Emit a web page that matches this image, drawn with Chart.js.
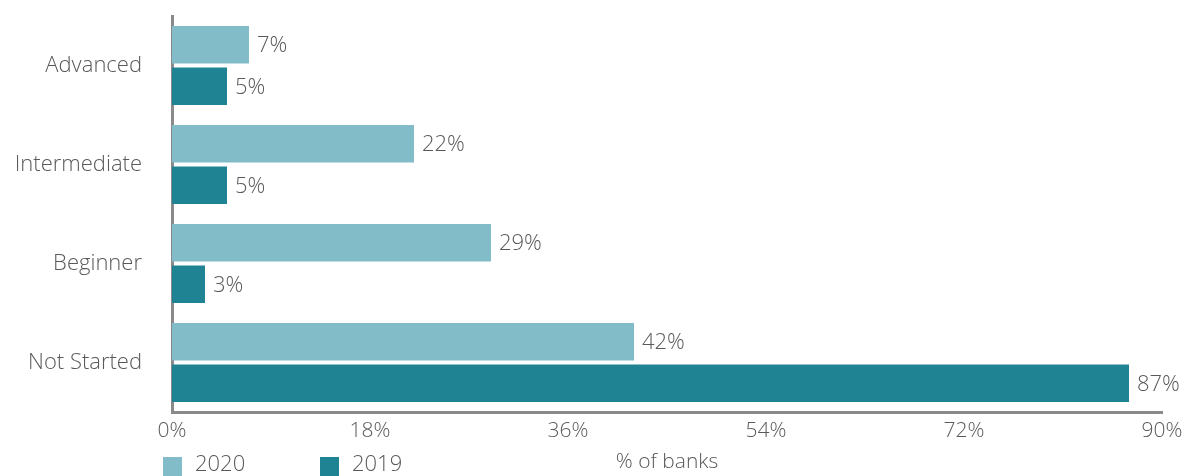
<!DOCTYPE html>
<html>
<head>
<meta charset="utf-8">
<script src="https://cdn.jsdelivr.net/npm/chart.js@4/dist/chart.umd.min.js"></script>
<style>
  html, body { margin: 0; padding: 0; background: #fff; }
  #wrap { width: 1184px; height: 476px; position: relative; }
</style>
</head>
<body>
<div id="wrap"><canvas id="stage"></canvas></div>
<script>
const categories = ['Advanced', 'Intermediate', 'Beginner', 'Not Started'];
const values2020 = [7, 22, 29, 42];
const values2019 = [5, 5, 3, 87];
const seriesNames = ['2020', '2019'];
const xTicks = [0, 18, 36, 54, 72, 90];

const textColor = '#595959';
const fontFamily = "'Open Sans', sans-serif";

// value labels at the end of each bar
const barLabels = {
    id: 'barLabels',
    afterDatasetsDraw(chart) {
        const ctx = chart.ctx;
        ctx.save();
        ctx.fillStyle = textColor;
        ctx.font = '300 22px ' + fontFamily;
        ctx.textBaseline = 'middle';
        ctx.textAlign = 'left';
        chart.data.datasets.forEach(function (ds, i) {
            chart.getDatasetMeta(i).data.forEach(function (bar, j) {
                ctx.fillText(ds.data[j] + '%', bar.x + 8, bar.y + 1);
            });
        });
        ctx.restore();
    }
};

// legend sits on the same line as the axis title, at the left
const sideLegend = {
    id: 'sideLegend',
    afterDraw(chart) {
        const ctx = chart.ctx;
        const xs = [163, 320];
        ctx.save();
        ctx.font = '300 22px ' + fontFamily;
        ctx.textBaseline = 'middle';
        chart.data.datasets.forEach(function (ds, i) {
            ctx.fillStyle = ds.backgroundColor;
            ctx.fillRect(xs[i], 457, 19, 19);
            ctx.fillStyle = textColor;
            ctx.fillText(ds.label, xs[i] + 32, 465);
        });
        ctx.restore();
    }
};

new Chart(document.getElementById('stage'), {
    type: 'bar',
    data: {
        labels: categories,
        datasets: [{
            label: seriesNames[0],
            data: values2020,
            backgroundColor: '#82bcc8',
            categoryPercentage: 0.84,
            barPercentage: 0.9
        },
        {
            label: seriesNames[1],
            data: values2019,
            backgroundColor: '#208394',
            categoryPercentage: 0.84,
            barPercentage: 0.9
        }]
    },
    options: {
        indexAxis: 'y',
        responsive: true,
        maintainAspectRatio: false,
        animation: false,
        layout: {
            padding: { top: 16, right: 22, left: 0, bottom: 0 }
        },
        plugins: {
            legend: { display: false },
            tooltip: { enabled: false }
        },
        scales: {
            x: {
                min: 0,
                max: 90,
                afterBuildTicks: function (scale) {
                    scale.ticks = xTicks.map(function (v) { return { value: v }; });
                },
                afterFit: function (scale) {
                    scale.height = 64;
                    scale.paddingLeft = 0;
                    scale.paddingRight = 0;
                },
                grid: { display: false },
                border: { display: true, color: '#8a8a8a', width: 3 },
                ticks: {
                    color: textColor,
                    padding: -2,
                    font: { size: 21, family: fontFamily, weight: 300 },
                    callback: function (v) { return v + '%'; }
                },
                title: {
                    display: true,
                    text: '% of banks',
                    color: textColor,
                    padding: { top: 0, bottom: 1 },
                    font: { size: 21, family: fontFamily, weight: 300 }
                }
            },
            y: {
                afterFit: function (scale) {
                    scale.width = 172;
                    scale.paddingTop = 0;
                    scale.paddingBottom = 0;
                },
                grid: { display: false },
                border: { display: true, color: '#8a8a8a', width: 3 },
                ticks: {
                    color: textColor,
                    padding: 22,
                    font: { size: 22, family: fontFamily, weight: 300 }
                }
            }
        }
    },
    plugins: [barLabels, sideLegend]
});
</script>
</body>
</html>
